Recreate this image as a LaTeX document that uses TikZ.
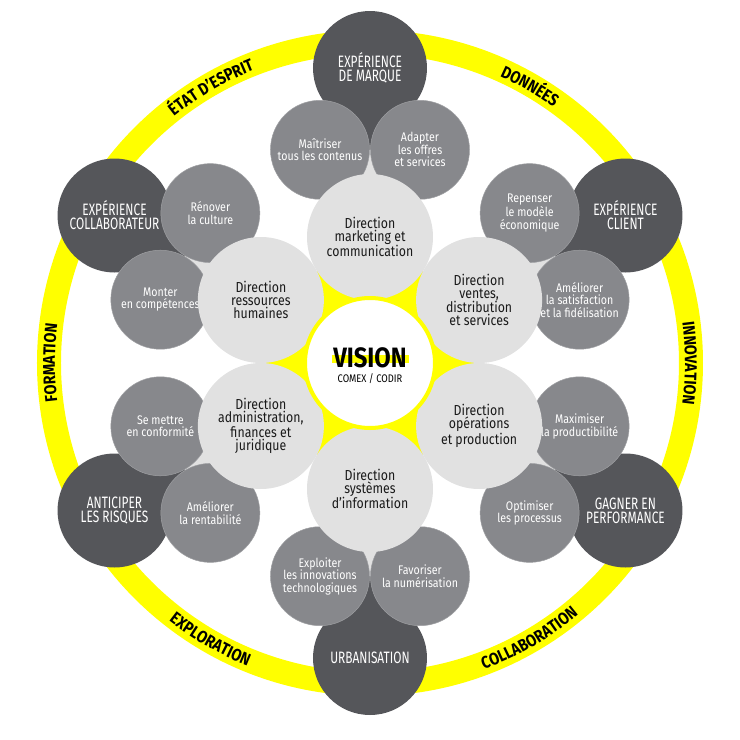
\documentclass[tikz,border=0pt]{standalone}
\usepackage{fontspec}
\setmainfont{Fira Sans}
\newfontfamily\circfont{Fira Sans}[FakeStretch=0.85]
\newfontfamily\capsfont{Fira Sans}[FakeStretch=0.72]
\newfontfamily\ringfont{Fira Sans}[FakeStretch=0.85]
\usepackage{tikz}
\usetikzlibrary{backgrounds,decorations.text}
\definecolor{cdark}{HTML}{55565A}
\definecolor{cmid}{HTML}{87888C}
\definecolor{clight}{HTML}{E1E1E1}
\definecolor{cyel}{HTML}{FFFF00}
\definecolor{cink}{HTML}{1A1A1A}
\tikzset{
  disc/.style={circle, inner sep=0pt, align=center},
  darkc/.style={disc, fill=cdark, text=white, minimum size=114pt, font=\capsfont\fontsize{16.5}{14}\selectfont},
  midc/.style={disc, fill=cmid, draw=cmid!80!white, line width=0.5pt, text=white, minimum size=99pt, font=\circfont\fontsize{12.5}{12.5}\selectfont},
  dirc/.style={disc, fill=clight, text=cink, minimum size=126pt, font=\circfont\fontsize{14.5}{13}\selectfont},
  ringlbl/.style={decorate, decoration={text along path, text align=center,
    text={|\ringfont\bfseries\fontsize{17}{17}\selectfont|#1}}},
}

\begin{document}
\begin{tikzpicture}[x=1pt,y=1pt]
\useasboundingbox (-370,-377) rectangle (370,363);

% actions, two per pole
\node[midc] (contenus) at (103.2:219pt) {Maîtriser\\tous les contenus};
\node[midc] (offres) at (76.8:219pt) {Adapter\\les offres\\et services};
\node[midc] (modele) at (43.2:219pt) {Repenser\\le modèle\\économique};
\node[midc] (fidel) at (16.8:219pt) {Améliorer\\la satisfaction\\et la fidélisation};
\node[midc] (produc) at (-16.8:219pt) {Maximiser\\la productibilité};
\node[midc] (process) at (-43.2:219pt) {Optimiser\\les processus};
\node[midc] (numer) at (-76.8:219pt) {Favoriser\\la numérisation};
\node[midc] (innov) at (-103.2:219pt) {Exploiter\\les innovations\\technologiques};
\node[midc] (rentab) at (-136.8:219pt) {Améliorer\\la rentabilité};
\node[midc] (conform) at (-163.2:219pt) {Se mettre\\en conformité};
\node[midc] (compet) at (163.2:219pt) {Monter\\en compétences};
\node[midc] (culture) at (136.8:219pt) {Rénover\\la culture};

% directions round the core
\fill[cyel] (0,0) circle[radius=106pt];
\node[dirc] (mkt) at (90:126pt) {Direction\\marketing et\\communication};
\node[dirc] (ventes) at (30:126pt) {Direction\\ventes,\\distribution\\et services};
\node[dirc] (oper) at (-30:126pt) {Direction\\opérations\\et production};
\node[dirc] (si) at (-90:126pt) {Direction\\systèmes\\d’information};
\node[dirc] (admin) at (-150:126pt) {Direction\\administration,\\finances et\\juridique};
\node[dirc] (rh) at (150:126pt) {Direction\\ressources\\humaines};

\node[disc, fill=white, draw=cyel, line width=4pt, minimum size=130pt] (vision) at (0,0) {};
\fill[cyel] (-38,0) rectangle (39,8);
\node[inner sep=0pt, text=black, font=\ringfont\bfseries\fontsize{28}{28}\selectfont] (visiontxt) at (0,5) {VISION};
\node[inner sep=0pt, text=black, font=\ringfont\fontsize{11}{11}\selectfont] (comex) at (0,-16) {COMEX / CODIR};

% ring words
\path[ringlbl=ÉTAT D’ESPRIT] (160:315pt) arc[start angle=160, end angle=80, radius=315pt];
\path[ringlbl=DONNÉES] (100:315pt) arc[start angle=100, end angle=20, radius=315pt];
\path[ringlbl=INNOVATION] (40:315pt) arc[start angle=40, end angle=-40, radius=315pt];
\path[ringlbl=FORMATION] (220:315pt) arc[start angle=220, end angle=140, radius=315pt];
\path[ringlbl=COLLABORATION] (-100:327pt) arc[start angle=-100, end angle=-20, radius=327pt];
\path[ringlbl=EXPLORATION] (-160:327pt) arc[start angle=-160, end angle=-80, radius=327pt];

\begin{pgfonlayer}{background}
\draw[cyel, line width=24pt] (0,0) circle[radius=321pt];
% fillets between paired circles
\fill[cdark] (90:295pt) -- (contenus.center) -- (offres.center) -- cycle;
\fill[cdark] (30:295pt) -- (modele.center) -- (fidel.center) -- cycle;
\fill[cdark] (-30:295pt) -- (produc.center) -- (process.center) -- cycle;
\fill[cdark] (-90:295pt) -- (numer.center) -- (innov.center) -- cycle;
\fill[cdark] (-150:295pt) -- (rentab.center) -- (conform.center) -- cycle;
\fill[cdark] (150:295pt) -- (compet.center) -- (culture.center) -- cycle;
\fill[clight] (mkt.center) -- (contenus.center) -- (offres.center) -- cycle;
\fill[clight] (ventes.center) -- (modele.center) -- (fidel.center) -- cycle;
\fill[clight] (oper.center) -- (produc.center) -- (process.center) -- cycle;
\fill[clight] (si.center) -- (numer.center) -- (innov.center) -- cycle;
\fill[clight] (admin.center) -- (rentab.center) -- (conform.center) -- cycle;
\fill[clight] (rh.center) -- (compet.center) -- (culture.center) -- cycle;
% poles
\node[darkc] (marque) at (90:295pt) {EXPÉRIENCE\\DE MARQUE};
\node[darkc] (client) at (30:295pt) {EXPÉRIENCE\\CLIENT};
\node[darkc] (perf) at (-30:295pt) {GAGNER EN\\PERFORMANCE};
\node[darkc] (urba) at (-90:295pt) {URBANISATION};
\node[darkc] (risques) at (-150:295pt) {ANTICIPER\\LES RISQUES};
\node[darkc] (collab) at (150:295pt) {EXPÉRIENCE\\COLLABORATEUR};
\end{pgfonlayer}
\end{tikzpicture}
\end{document}
